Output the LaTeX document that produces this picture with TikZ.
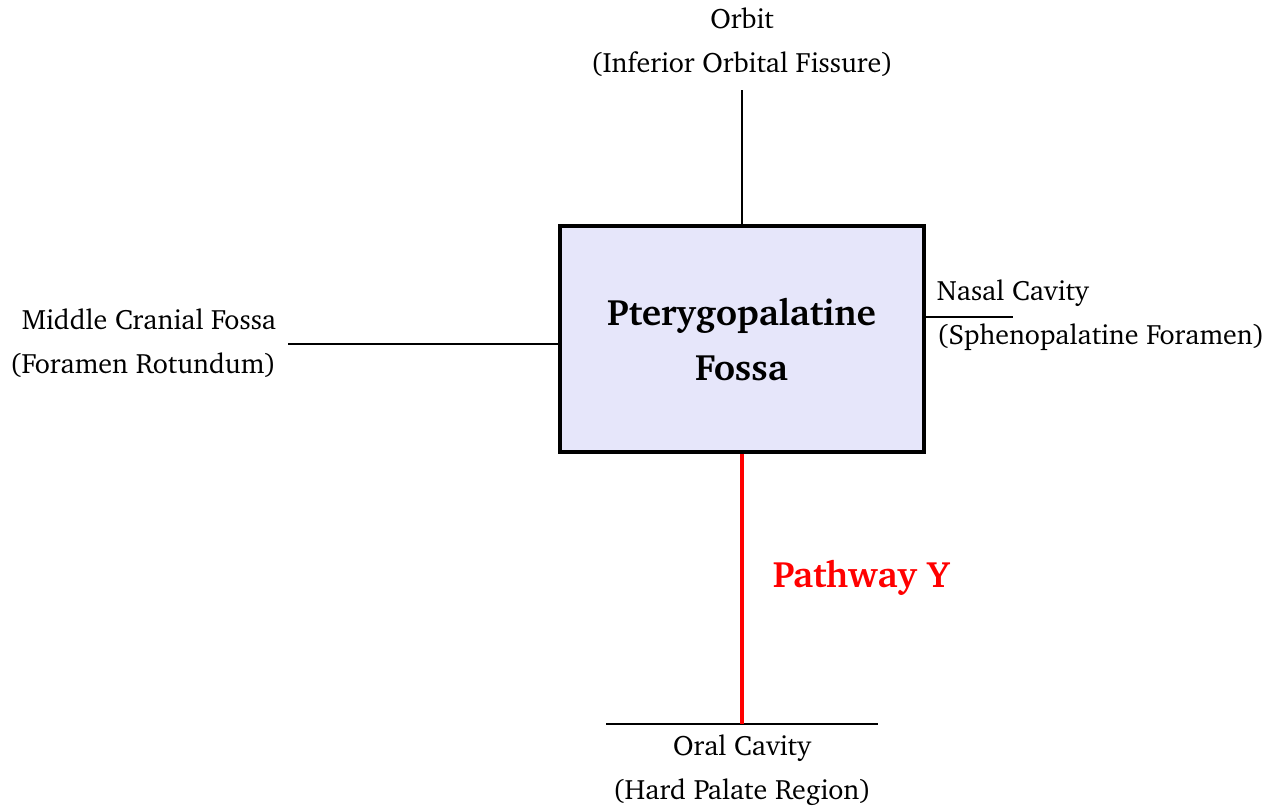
\documentclass[tikz,border=0pt]{standalone}
\usepackage[T1]{fontenc}
\usepackage{charter}
\usetikzlibrary{positioning}
\definecolor{fossafill}{RGB}{230,230,250}
\tikzset{
  region/.style={align=center, font=\fontsize{11.2}{17.6}\selectfont},
  fossa/.style={draw, line width=1.6pt, fill=fossafill, minimum width=145.6pt,
    minimum height=90.4pt, align=center, font=\fontsize{14.7}{22}\selectfont\bfseries},
  route/.style={line width=0.8pt},
  pathway/.style={red, line width=1.4pt}
}
\begin{document}
\begin{tikzpicture}[x=0.4pt, y=-0.4pt]
\useasboundingbox (0,0) rectangle (1279,809);
% central box
\node[fossa] (ptf) at (741.5,339) {Pterygopalatine\\Fossa};
% orbit above
\node[region] (orbit) at (742,42) {Orbit\\(Inferior Orbital Fissure)};
\coordinate (orbitend) at (742,90);
\draw[route] (orbitend) -- (orbitend |- ptf.north);
% middle cranial fossa on the left
\node[region, align=right, anchor=east] (mcf) at (285,343) {Middle Cranial Fossa\\(Foramen Rotundum)};
\coordinate (mcfend) at (288,344);
\draw[route] (mcfend) -- (mcfend -| ptf.west);
% nasal cavity on the right
\node[region, align=left, anchor=west] (nasal) at (928,315) {Nasal Cavity\\(Sphenopalatine Foramen)};
\coordinate (nasalend) at (1013,317);
\draw[route] (nasalend -| ptf.east) -- (nasalend);
% oral cavity below, pathway Y
\coordinate (oralmid) at (742,724);
\draw[route] (606,724) coordinate (oralleft) -- (878,724) coordinate (oralright);
\node[region] (oral) at (742,770) {Oral Cavity\\(Hard Palate Region)};
\draw[pathway] (ptf.south -| oralmid) -- (oralmid);
\node[text=red, anchor=west, font=\fontsize{14.7}{22}\selectfont\bfseries] (pathy) at (764,578) {Pathway Y};
\end{tikzpicture}
\end{document}
